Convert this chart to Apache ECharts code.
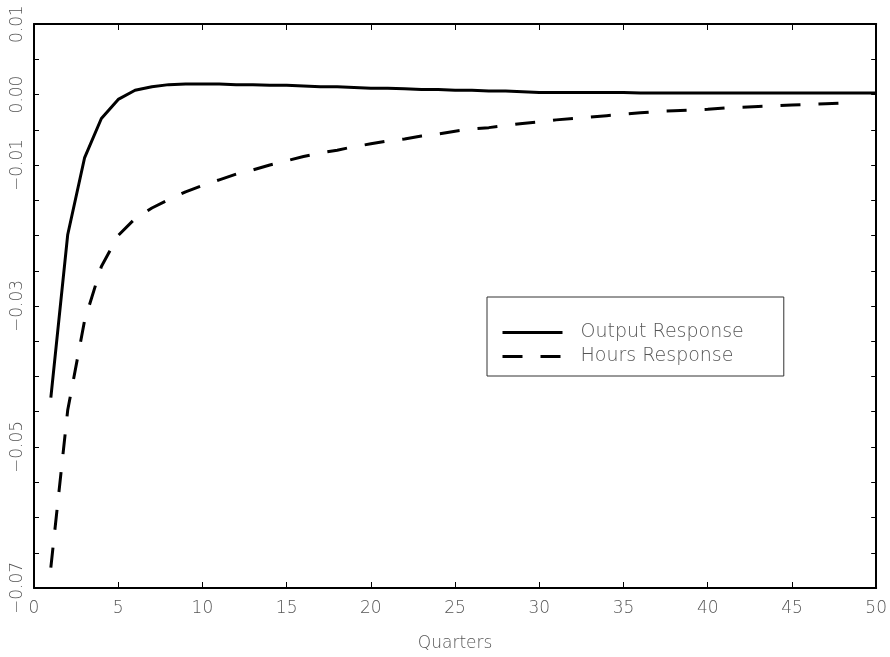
<!DOCTYPE html>
<html>
<head>
<meta charset="utf-8">
<script src="https://cdn.jsdelivr.net/npm/echarts@6/dist/echarts.min.js"></script>
<style>html,body{margin:0;padding:0;background:#fff;}#c{width:890px;height:657px;}</style>
</head>
<body>
<div id="c"></div>
<script>
var quarters = [1,2,3,4,5,6,7,8,9,10,11,12,13,14,15,16,17,18,19,20,21,22,23,24,25,26,27,28,29,30,31,32,33,34,35,36,37,38,39,40,41,42,43,44,45,46,47,48,49,50];
var outputResponse = [-0.0430,-0.0199,-0.0090,-0.0034,-0.0007,0.0006,0.0011,0.0014,0.0015,0.0015,0.0015,0.0014,0.0014,0.0013,0.0013,0.0012,0.0011,0.0011,0.0010,0.0009,0.0009,0.0008,0.0007,0.0007,0.0006,0.0006,0.0005,0.0005,0.0004,0.0003,0.0003,0.0003,0.0003,0.0003,0.0003,0.0002,0.0002,0.0002,0.0002,0.0002,0.0002,0.0002,0.0002,0.0002,0.0002,0.0002,0.0002,0.0002,0.0002,0.0002];
var hoursResponse = [-0.0671,-0.0448,-0.0321,-0.0244,-0.0200,-0.0176,-0.0161,-0.0149,-0.0138,-0.0129,-0.0121,-0.0113,-0.0107,-0.0100,-0.0094,-0.0088,-0.0083,-0.0079,-0.0074,-0.0070,-0.0066,-0.0063,-0.0059,-0.0056,-0.0052,-0.0049,-0.0047,-0.0044,-0.0041,-0.0039,-0.0036,-0.0034,-0.0032,-0.0030,-0.0028,-0.0026,-0.0024,-0.0023,-0.0022,-0.0021,-0.0019,-0.0018,-0.0017,-0.0016,-0.0015,-0.0014,-0.0013,-0.0012];
var yLabelValues = [0.01, 0.00, -0.01, -0.03, -0.05, -0.07];
var xTitle = 'Quarters';
var seriesNames = ['Output Response', 'Hours Response'];

function pairs(xs, ys) { return ys.map(function (v, i) { return [xs[i], v]; }); }

var FONT = 'DejaVu Sans';
var TXT = '#555';
var chart = echarts.init(document.getElementById('c'));
chart.setOption({
  animation: false,
  backgroundColor: '#fff',
  grid: { left: 34, right: 13, top: 24, bottom: 68, containLabel: false },
  xAxis: [{
    type: 'value', min: 0, max: 50, interval: 5,
    name: xTitle, nameLocation: 'middle', nameGap: 47,
    nameTextStyle: { fontFamily: FONT, fontSize: 17, color: TXT, fontWeight: 'lighter' },
    axisLine: { show: true, onZero: false, lineStyle: { color: '#000', width: 2 } },
    axisTick: { show: true, inside: true, length: 6, lineStyle: { color: '#000', width: 1 } },
    axisLabel: { fontFamily: FONT, fontSize: 17, color: TXT, margin: 12, fontWeight: 'lighter' },
    splitLine: { show: false }
  }, {
    type: 'value', min: 0, max: 50, interval: 5, position: 'top',
    axisLine: { show: true, onZero: false, lineStyle: { color: '#000', width: 2 } },
    axisTick: { show: true, inside: true, length: 6, lineStyle: { color: '#000', width: 1 } },
    axisLabel: { show: false }, splitLine: { show: false }
  }],
  yAxis: [{
    type: 'value', min: -0.07, max: 0.01, interval: 0.005,
    axisLine: { show: true, onZero: false, lineStyle: { color: '#000', width: 2 } },
    axisTick: { show: true, inside: true, length: 5, lineStyle: { color: '#000', width: 1 } },
    axisLabel: {
      rotate: 90, fontFamily: FONT, fontSize: 17, color: TXT, margin: 8, fontWeight: 'lighter',
      formatter: function (v) {
        var k = Math.round(v * 1000);
        for (var i = 0; i < yLabelValues.length; i++) {
          if (Math.round(yLabelValues[i] * 1000) === k) {
            return (k < 0 ? '\u2212' : '') + Math.abs(yLabelValues[i]).toFixed(2);
          }
        }
        return '';
      }
    },
    splitLine: { show: false }
  }, {
    type: 'value', min: -0.07, max: 0.01, interval: 0.005, position: 'right',
    axisLine: { show: true, onZero: false, lineStyle: { color: '#000', width: 2 } },
    axisTick: { show: true, inside: true, length: 5, lineStyle: { color: '#000', width: 1 } },
    axisLabel: { show: false }, splitLine: { show: false }
  }],
  legend: {
    left: 487, top: 297, orient: 'vertical',
    data: seriesNames,
    backgroundColor: '#fff', borderColor: '#333', borderWidth: 1,
    padding: [26, 40, 10, 14], itemGap: 5,
    itemWidth: 60, itemHeight: 14,
    itemStyle: { opacity: 0 },
    lineStyle: { width: 3, color: '#000' },
    textStyle: { fontFamily: FONT, fontSize: 19, color: TXT, fontWeight: 'lighter', padding: [0, 0, 0, 13] }
  },
  series: [{
    name: seriesNames[0], type: 'line', showSymbol: false, symbol: 'none',
    data: pairs(quarters, outputResponse),
    lineStyle: { color: '#000', width: 3, type: 'solid' },
    itemStyle: { color: '#000' }
  }, {
    name: seriesNames[1], type: 'line', showSymbol: false, symbol: 'none',
    data: pairs(quarters, hoursResponse),
    lineStyle: { color: '#000', width: 3, type: [20, 18] },
    itemStyle: { color: '#000' }
  }]
});
</script>
</body>
</html>
